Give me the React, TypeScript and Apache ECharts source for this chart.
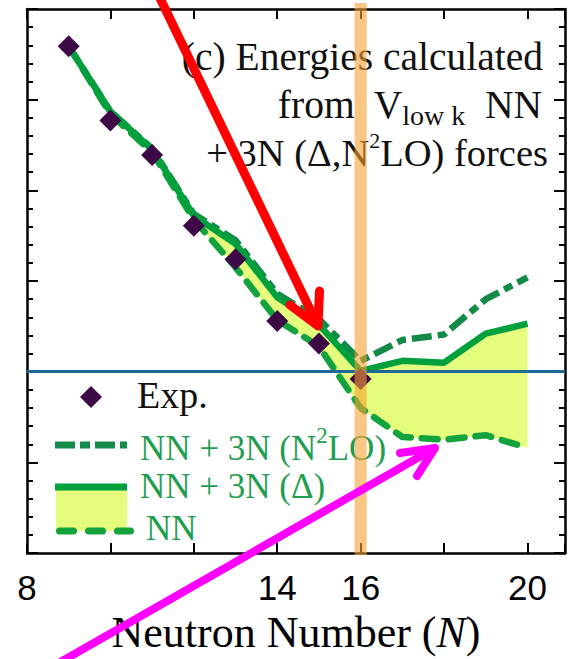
import React, { useEffect, useRef } from "react";
import * as echarts from "echarts";

// ---- data ----
const neutronNumbers = [9, 10, 11, 12, 13, 14, 15, 16, 17, 18, 19, 20];
const expNeutronNumbers = [9, 10, 11, 12, 13, 14, 15, 16];
const expValues = [3.59, 2.77, 2.39, 1.61, 1.24, 0.56, 0.31, -0.08];
const deltaValues = [3.59, 2.87, 2.45, 1.72, 1.41, 0.82, 0.52, 0.01, 0.12, 0.1, 0.42, 0.53];
const n2loValues = [3.59, 2.87, 2.46, 1.74, 1.45, 0.86, 0.58, 0.12, 0.35, 0.41, 0.8, 1.04];
const nnValues = [3.59, 2.84, 2.42, 1.68, 1.15, 0.57, 0.28, -0.4, -0.72, -0.75, -0.7, -0.84];
const xTickLabels = [8, 14, 16, 20];
const highlightN = 16;

const SERIF = '"Liberation Serif", "Times New Roman", serif';
const SANS = '"Liberation Sans", Arial, sans-serif';
const GREEN_SOLID = "#00a03c";
const GREEN_DASHDOT = "#138a48";
const GREEN_DASH = "#14a23c";
const GREEN_TEXT = "#1f9e50";
const YELLOW = "#e4fd7c";
const PURPLE = "#3c0846";

const pairs = (xs: number[], ys: number[]) => xs.map((x, i) => [x, ys[i]]);

export default function App() {
  const ref = useRef<HTMLDivElement>(null);
  useEffect(() => {
    if (!ref.current) return;
    const chart = echarts.init(ref.current, undefined, { renderer: "svg" });
    const frameAxis = {
      axisLine: { show: true, onZero: false, lineStyle: { color: "#000", width: 2.5 } },
      splitLine: { show: false },
    };
    chart.setOption({
      animation: false,
      grid: { left: 27, right: 2, top: 9, bottom: 100, containLabel: false },
      xAxis: [
        {
          type: "value",
          min: 8,
          max: 20.9,
          interval: 2,
          position: "bottom",
          ...frameAxis,
          axisTick: { inside: true, length: 10, lineStyle: { color: "#000", width: 2 } },
          axisLabel: {
            formatter: (v: number) => (xTickLabels.includes(v) ? String(v) : ""),
            fontFamily: SANS,
            fontSize: 35,
            color: "#000",
            margin: 17,
          },
          name: "Neutron Number ({i|N})",
          nameLocation: "middle",
          nameGap: 54,
          nameTextStyle: {
            fontFamily: SERIF,
            fontSize: 44,
            color: "#000",
            rich: { i: { fontFamily: SERIF, fontSize: 44, fontStyle: "italic", color: "#000" } },
          },
        },
        {
          type: "value",
          min: 8,
          max: 20.9,
          interval: 2,
          position: "top",
          ...frameAxis,
          axisTick: { inside: true, length: 10, lineStyle: { color: "#000", width: 2 } },
          axisLabel: { show: false },
        },
      ],
      yAxis: [0, 1].map((k) => ({
        type: "value",
        min: -2,
        max: 4,
        interval: 1,
        position: k === 0 ? "left" : "right",
        ...frameAxis,
        axisTick: { inside: true, length: 11, lineStyle: { color: "#000", width: 2 } },
        minorTick: { show: true, splitNumber: 5, length: 6, lineStyle: { color: "#000", width: 2 } },
        axisLabel: { show: false },
      })),
      series: [
        {
          type: "custom",
          name: "band",
          z: 1,
          silent: true,
          data: [[neutronNumbers[0], nnValues[0]]],
          renderItem: (_p: any, api: any) => {
            const top = neutronNumbers.map((n, i) => api.coord([n, deltaValues[i]]));
            const bottom = neutronNumbers.map((n, i) => api.coord([n, nnValues[i]])).reverse();
            return { type: "polygon", shape: { points: [...top, ...bottom] }, style: { fill: YELLOW } };
          },
        },
        {
          type: "line",
          name: "NN",
          z: 3,
          data: pairs(neutronNumbers, nnValues),
          symbol: "none",
          lineStyle: { color: GREEN_DASH, width: 6.5, type: [16, 11], cap: "round" },
        },
        {
          type: "line",
          name: "NN + 3N (N2LO)",
          z: 3,
          data: pairs(neutronNumbers, n2loValues),
          symbol: "none",
          lineStyle: { color: GREEN_DASHDOT, width: 6.5, type: [20, 6, 9, 6] },
        },
        {
          type: "line",
          name: "NN + 3N (Delta)",
          z: 4,
          data: pairs(neutronNumbers, deltaValues),
          symbol: "none",
          lineStyle: { color: GREEN_SOLID, width: 6.5 },
          markLine: {
            silent: true,
            symbol: "none",
            label: { show: false },
            lineStyle: { color: "#1f6898", width: 3, type: "solid" },
            data: [{ yAxis: 0 }],
          },
        },
        {
          type: "scatter",
          name: "Exp.",
          z: 6,
          data: pairs(expNeutronNumbers, expValues),
          symbol: "diamond",
          symbolSize: [22, 22],
          itemStyle: { color: PURPLE, opacity: 1 },
        },
        {
          type: "custom",
          name: "highlight",
          z: 10,
          silent: true,
          clip: false,
          data: [[highlightN, 0]],
          renderItem: (_p: any, api: any) => {
            const a = api.coord([highlightN - 0.145, 4.065]);
            const b = api.coord([highlightN + 0.145, -2.02]);
            return {
              type: "rect",
              shape: { x: a[0], y: a[1], width: b[0] - a[0], height: b[1] - a[1] },
              style: { fill: "rgba(247,160,48,0.6)" },
            };
          },
        },
      ],
      graphic: [
        // annotation text block
        {
          type: "text", x: 543, y: 57, z: 5,
          style: { text: "(c) Energies calculated", fontFamily: SERIF, fontSize: 39.5, fill: "#111", align: "right", verticalAlign: "middle" },
        },
        {
          type: "text", x: 542, y: 105, z: 5,
          style: {
            text: "from  V{sub|low k}{m|  NN}", fontFamily: SERIF, fontSize: 39.5, lineHeight: 48, fill: "#111",
            align: "right", verticalAlign: "middle",
            rich: {
              sub: { fontFamily: SERIF, fontSize: 28, lineHeight: 27, verticalAlign: "bottom", fill: "#111" },
              m: { fontFamily: SERIF, fontSize: 39.5, lineHeight: 48, fill: "#111" },
            },
          },
        },
        {
          type: "text", x: 548, y: 153, z: 5,
          style: {
            text: "+ 3N (Δ,N{sup|2}{m|LO) forces}", fontFamily: SERIF, fontSize: 38.5, lineHeight: 48, fill: "#111",
            align: "right", verticalAlign: "middle",
            rich: {
              sup: { fontFamily: SERIF, fontSize: 22, lineHeight: 22, verticalAlign: "top", fill: "#111" },
              m: { fontFamily: SERIF, fontSize: 38.5, lineHeight: 48, fill: "#111" },
            },
          },
        },
        // legend
        {
          type: "polygon", z: 6,
          shape: { points: [[91, 386], [102, 397], [91, 408], [80, 397]] },
          style: { fill: PURPLE },
        },
        {
          type: "text", x: 137, y: 395, z: 5,
          style: { text: "Exp.", fontFamily: SERIF, fontSize: 38, fill: "#111", align: "left", verticalAlign: "middle" },
        },
        {
          type: "line", z: 5,
          shape: { x1: 55, y1: 445, x2: 127, y2: 445 },
          style: { stroke: GREEN_DASHDOT, lineWidth: 7, lineDash: [20, 5, 10, 5] },
        },
        {
          type: "text", x: 140, y: 448, z: 5,
          style: {
            text: "NN + 3N (N{sup|2}{m|LO)}", fontFamily: SERIF, fontSize: 35, lineHeight: 48, fill: GREEN_TEXT,
            align: "left", verticalAlign: "middle",
            rich: {
              sup: { fontFamily: SERIF, fontSize: 23, lineHeight: 23, verticalAlign: "top", fill: GREEN_TEXT },
              m: { fontFamily: SERIF, fontSize: 35, lineHeight: 48, fill: GREEN_TEXT },
            },
          },
        },
        {
          type: "rect", z: 4,
          shape: { x: 56, y: 489, width: 71, height: 42 },
          style: { fill: YELLOW },
        },
        {
          type: "line", z: 5,
          shape: { x1: 55, y1: 487, x2: 127, y2: 487 },
          style: { stroke: GREEN_SOLID, lineWidth: 7 },
        },
        {
          type: "text", x: 140, y: 486, z: 5,
          style: { text: "NN + 3N (Δ)", fontFamily: SERIF, fontSize: 35, fill: GREEN_TEXT, align: "left", verticalAlign: "middle" },
        },
        {
          type: "line", z: 5,
          shape: { x1: 59.5, y1: 531, x2: 130.5, y2: 531 },
          style: { stroke: GREEN_DASH, lineWidth: 7, lineDash: [14, 15], lineCap: "round" },
        },
        {
          type: "text", x: 146, y: 528, z: 5,
          style: { text: "NN", fontFamily: SERIF, fontSize: 35, fill: GREEN_TEXT, align: "left", verticalAlign: "middle" },
        },
        // red arrow
        {
          type: "line", z: 100,
          shape: { x1: 158, y1: -6, x2: 318, y2: 326 },
          style: { stroke: "#ff0000", lineWidth: 9 },
        },
        {
          type: "polyline", z: 100,
          shape: { points: [[290, 305], [318, 326], [319.5, 291]] },
          style: { stroke: "#ff0000", lineWidth: 9, lineCap: "round", lineJoin: "round", fill: null },
        },
        // magenta arrow
        {
          type: "line", z: 100,
          shape: { x1: 50, y1: 668, x2: 435, y2: 448 },
          style: { stroke: "#ff00ff", lineWidth: 8 },
        },
        {
          type: "polyline", z: 100,
          shape: { points: [[400, 453], [435, 448], [417, 476]] },
          style: { stroke: "#ff00ff", lineWidth: 8, lineCap: "round", lineJoin: "round", fill: null },
        },
      ],
    });
    return () => chart.dispose();
  }, []);
  return (
    <div
      ref={ref}
      style={{ position: "absolute", left: 0, top: 0, width: 568, height: 659, background: "#fff" }}
    />
  );
}
